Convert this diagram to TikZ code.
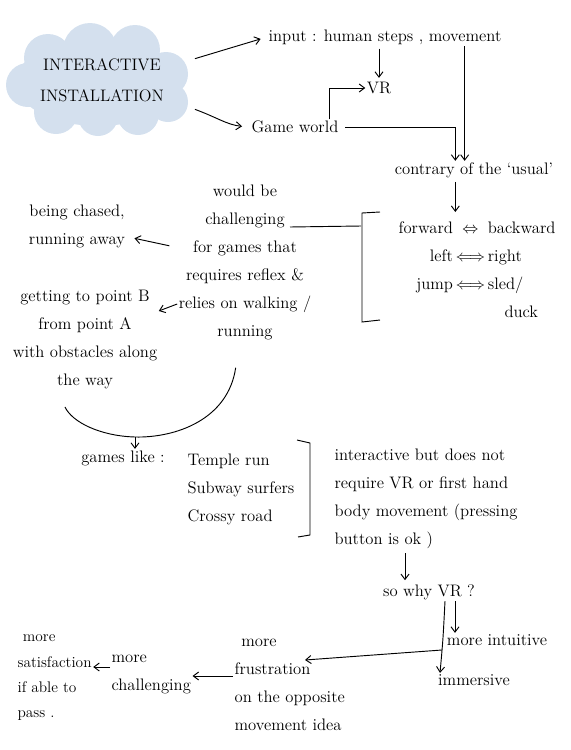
\documentclass[tikz,border=0pt]{standalone}
\usetikzlibrary{arrows.meta}
\definecolor{cloudblue}{HTML}{D4E0EE}
\begin{document}
\begin{tikzpicture}[x=0.75pt,y=-0.75pt,
  txt/.style={font=\fontsize{12.5}{21}\selectfont, inner sep=1pt},
  arr/.style={-{Straight Barb[length=4pt,width=6pt]}, line width=0.7pt},
  ln/.style={line width=0.7pt},
  puff/.style={fill=cloudblue}]
\useasboundingbox (0,0) rectangle (571,750);

% cloud (drawn from puffs)
\fill[puff] (98,82) ellipse [x radius=82, y radius=44];
\foreach \cx/\cy/\r in {48/58/24, 90/50/27, 135/50/25, 166/74/22, 168/102/20, 138/114/21,
                        98/116/20, 56/112/22, 28/85/22}
  \fill[puff] (\cx,\cy) circle [radius=\r];
\node[align=center, font=\fontsize{12.5}{23}\selectfont, minimum width=139pt, minimum height=82pt,
      inner sep=0pt] (cloud) at (102,80) {INTERACTIVE\\INSTALLATION};

% top part
\node[txt] (inp) at (385,37) {input : human steps , movement};
\node[txt] (vr) at (379,88) {VR};
\node[txt] (gw) at (295,127) {Game world};
\node[txt] (con) at (474,170) {contrary of the `usual'};

\draw[arr, shorten >=5pt] ([yshift=16pt]cloud.east) -- (inp.west);
\draw[arr, shorten >=6pt] ([yshift=-22pt]cloud.east) to[out=-20,in=175] (gw.west);
\draw[arr, shorten <=2pt, shorten >=2pt] (vr.north |- inp.south) -- (vr.north);
\draw[arr] ([xshift=-7.5pt]gw.north east) |- (vr.west);
\coordinate (c1) at ([xshift=-14pt]con.north);
\coordinate (c2) at ([xshift=-7pt]con.north);
\draw[arr] ([xshift=4pt]gw.east) -| (c1);
\draw[arr] (inp.south -| c2) -- (c2);

% opposites
\node[txt, anchor=north] (opp) at (477,212) {\begin{tabular}{@{}r@{\,}c@{\,}l@{}}
forward & $\Leftrightarrow$ & backward\\
left & $\Longleftrightarrow$ & right\\
jump & $\Longleftrightarrow$ & sled/\\
 & & \quad duck
\end{tabular}};
\draw[arr, shorten <=2pt] (con.south -| c1) -- (opp.north -| c1);

\draw[ln] (380,212) -- (362,213) -- (362,322) -- (380,320);
\coordinate (brk) at (361,226);

% middle column
\node[txt, align=center] (mid) at (245,262) {would be\\challenging\\for games that\\requires reflex \&\\relies on walking /\\running};
\coordinate (chal) at (290,227);
\draw[ln] (chal) -- (brk);

\node[txt, align=center] (chase) at (77,226) {being chased,\\running away};
\draw[arr, shorten <=6pt, shorten >=6pt] (mid) -- (chase);

\node[txt, align=center] (gpb) at (85,340) {getting to point B\\from point A\\with obstacles along\\the way};
\draw[arr] (mid.west |- 0,304) -- (gpb.east |- 0,311);

% curve to games
\coordinate (cb) at (135,437);
\draw[ln] ([xshift=-7pt,yshift=-20pt]mid.south) .. controls (228,420) and (175,438) .. (cb)
          .. controls (100,436) and (72,422) .. ([xshift=-15pt,yshift=-12pt]gpb.south);
\node[txt] (games) at (123,458) {games like :};
\draw[arr] (cb) -- (games.north -| cb);

\node[txt, align=left, anchor=west] (list) at (186,489) {Temple run\\Subway surfers\\Crossy road};
\draw[ln] (297,440) -- (310,443) -- (310,535) -- (298,537);

\node[txt, align=left, anchor=west] (why1) at (333,499) {interactive but does not\\require VR or first hand\\body movement (pressing\\button is ok )};
\node[txt] (sowhy) at (429,592) {so why VR ?};
\coordinate (a1) at ([xshift=-18pt]sowhy.north);
\draw[arr, shorten <=2pt, shorten >=2pt] (why1.south -| a1) -- (a1);

\node[txt] (intu) at (497,640) {more intuitive};
\node[txt] (imm) at (474,680) {immersive};
\draw[arr] (sowhy.south -| 455,0) -- (intu.north -| 455,0);
\draw[arr] (sowhy.south -| 445,0) .. controls (443,640) .. (imm.north -| 440,0);

\node[txt, align=left, anchor=west] (frus) at (233,685) {\hspace{5pt}more\\frustration\\on the opposite\\movement idea};
\coordinate (m1) at (442,650);
\coordinate (m2) at (305,660);
\draw[arr] (m1) -- (m2);

\node[txt, align=left, anchor=west] (chall) at (110,674) {more\\challenging};
\draw[arr] (frus.west |- 0,676) -- (chall.east |- 0,676);

\node[txt, align=left, anchor=west, font=\fontsize{11.5}{19}\selectfont] (sat) at (16,678) {\hspace{4pt}more\\satisfaction\\if able to\\pass .};
\draw[arr] (chall.west |- 0,667) -- (sat.east |- 0,667);
\end{tikzpicture}
\end{document}
